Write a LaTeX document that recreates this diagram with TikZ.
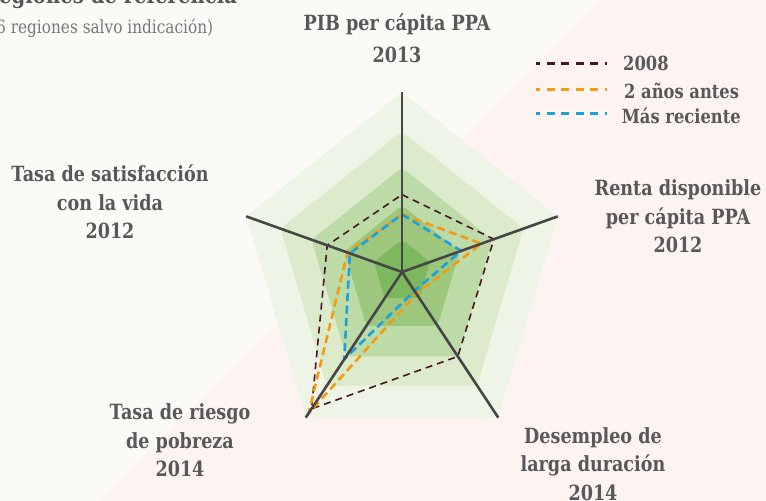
\documentclass[tikz,border=0pt]{standalone}
\usepackage{fontspec}
\setmainfont{DejaVu Serif}[FakeStretch=0.84]
\usetikzlibrary{positioning}
\definecolor{fondo}{HTML}{FBFAF6}
\definecolor{rosado}{HTML}{FDF4F1}
\definecolor{verde1}{HTML}{EEF5E7}
\definecolor{verde2}{HTML}{DCEBCB}
\definecolor{verde3}{HTML}{BDDBA6}
\definecolor{verde4}{HTML}{9CC77C}
\definecolor{verde5}{HTML}{7DB75E}
\definecolor{gristexto}{HTML}{58585B}
\definecolor{griseje}{HTML}{464646}
\definecolor{granate}{HTML}{4A1526}
\definecolor{naranja}{HTML}{F39C12}
\definecolor{azul}{HTML}{1BA1DE}

\begin{document}
\begin{tikzpicture}[x=1bp,y=1bp,
    etiqueta/.style={text=gristexto,font=\fontsize{21}{28.7}\selectfont\bfseries,align=center,anchor=base,inner sep=0pt},
    leyenda/.style={text=gristexto,font=\fontsize{19.5}{24}\selectfont\bfseries,anchor=base west,inner sep=0pt},
    eje/.style={griseje,line width=2.6bp},
    anillo/.style={rounded corners=5bp},
    serieviejo/.style={granate,line width=1.6bp,dash pattern=on 7bp off 5bp},
    serieantes/.style={naranja,line width=2.6bp,dash pattern=on 8bp off 4.5bp},
    serienuevo/.style={azul,line width=2.6bp,dash pattern=on 8bp off 4.5bp},
    muestra/.style={line width=3bp,dash pattern=on 8bp off 6.5bp,dash phase=4bp}]
    \useasboundingbox (0,0) rectangle (766,-501);
    \clip (0,0) rectangle (766,-501);
    \fill[fondo] (0,0) rectangle (766,-501);
    \fill[rosado] (600,0) -- (766,0) -- (766,-501) -- (100,-501) -- cycle;

    \begin{scope}[shift={(402,-272)},x=163.8bp,y=180bp]
        \foreach \r/\c in {1/verde1,0.78/verde2,0.58/verde3,0.37/verde4,0.18/verde5}
            \fill[\c,anillo] (90:\r) -- (18:\r) -- (-54:\r) -- (-126:\r) -- (162:\r) -- cycle;
        \coordinate (centro) at (0,0);
        \foreach \a/\n in {90/pib,18/renta,-54/desempleo,-126/riesgo,162/satisf}
            \coordinate (\n) at (\a:1);
        \draw[serieviejo] (90:0.43) -- (18:0.59) -- (-54:0.58) -- (-126:0.94) -- (162:0.48) -- cycle;
        \draw[serieantes] (90:0.32) -- (18:0.51) -- (-54:0.15) -- (-126:0.97) -- (162:0.35) -- cycle;
        \draw[serienuevo] (90:0.32) -- (18:0.38) -- (-54:0.13) -- (-126:0.60) -- (162:0.335) -- cycle;
        \foreach \n in {pib,renta,desempleo,riesgo,satisf}
            \draw[eje] (centro) -- (\n);
    \end{scope}

    \node[anchor=base west,inner sep=0pt,text=gristexto,font=\fontsize{23.5}{26}\selectfont\bfseries] (titulo) at (-1,-4) {egiones de referencia};
    \node[anchor=base west,inner sep=0pt,text=gristexto!80,font=\fontsize{18.3}{22}\selectfont] (subtitulo) at (-4,-33.3) {6 regiones salvo indicación)};

    \node[etiqueta] (lpib) at (397,-63) {PIB per cápita PPA\\[4.3bp]2013};
    \node[etiqueta] (lrenta) at (678,-253) {Renta disponible\\per cápita PPA\\2012};
    \node[etiqueta] (ldesempleo) at (593,-500.4) {Desempleo de\\larga duración\\2014};
    \node[etiqueta] (lriesgo) at (180,-476.7) {Tasa de riesgo\\de pobreza\\2014};
    \node[etiqueta] (lsatisf) at (110,-239) {Tasa de satisfacción\\con la vida\\2012};

    \coordinate (m1a) at (536,-64);    \coordinate (m1b) at (607,-64);
    \coordinate (m2a) at (536,-89.3);  \coordinate (m2b) at (607,-89.3);
    \coordinate (m3a) at (536,-113.7); \coordinate (m3b) at (607,-113.7);
    \draw[muestra,granate] (m1a) -- (m1b);
    \draw[muestra,naranja] (m2a) -- (m2b);
    \draw[muestra,azul] (m3a) -- (m3b);
    \node[leyenda] (t2008) at (623,-71) {2008};
    \node[leyenda] (tantes) at (624,-98.3) {2 años antes};
    \node[leyenda] (tnuevo) at (621.7,-123.3) {Más reciente};
\end{tikzpicture}
\end{document}
